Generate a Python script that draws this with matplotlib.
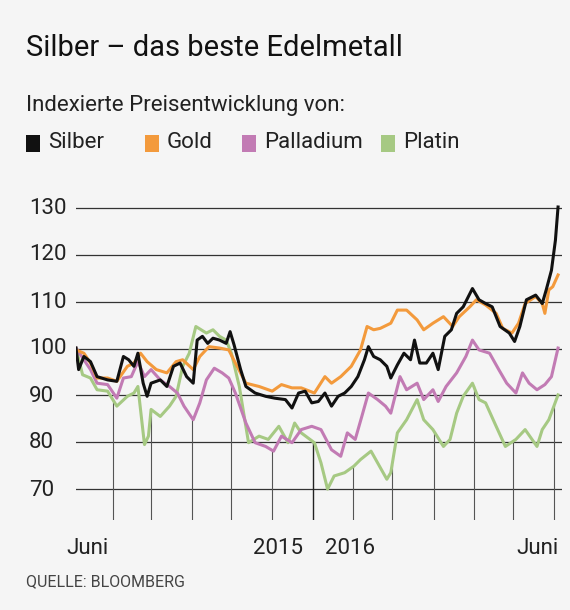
import matplotlib
matplotlib.use("Agg")
import matplotlib.pyplot as plt
import numpy as np
from matplotlib.patches import Rectangle

plt.rcParams['font.family'] = ['Roboto', 'DejaVu Sans']

silver_x = [0,2,6,11,16,24,31,36,40,44,47,51,54,57,64,69,74,79,84,89,92,96,100,104,109,114,117,120,125,129,136,144,151,159,164,169,174,179,184,189,194,199,204,209,214,219,222,226,231,236,239,244,249,254,257,261,266,271,275,280,285,289,294,301,306,311,316,322,329,333,337,342,349,354,357,361,364,366]
silver_y = [100.1,95.5,98.3,97.2,94.0,93.3,93.0,98.3,97.6,96.2,99.0,92.6,89.8,92.6,93.3,91.9,96.2,96.9,94.0,92.6,101.8,102.6,101.1,102.2,101.8,101.1,103.6,100.8,95.5,91.9,90.5,89.8,89.4,89.1,87.3,90.5,90.9,88.4,88.7,90.5,87.7,89.8,90.5,91.9,94.0,97.6,100.4,98.3,97.6,96.2,93.7,96.5,99.0,97.6,101.8,96.9,96.9,99.0,95.5,102.6,104.0,107.5,108.9,112.8,110.4,109.6,108.9,104.7,103.3,101.5,104.7,110.4,111.4,109.6,112.5,116.7,123.1,130.2]

gold_x = [0,6,11,16,24,31,39,44,49,54,61,69,76,81,89,94,101,109,116,121,129,139,149,156,164,171,181,189,194,201,209,216,221,226,231,239,244,251,259,264,271,279,286,291,299,304,311,319,324,331,336,341,349,354,356,359,362,366]
gold_y = [99.7,99.0,96.9,93.7,93.7,93.0,96.2,96.9,99.0,97.2,95.5,94.8,97.2,97.6,95.5,98.3,100.4,100.1,99.7,96.9,92.6,91.9,90.9,92.3,91.6,91.6,90.5,94.0,92.6,94.0,96.2,99.7,104.7,104.0,104.3,105.4,108.2,108.2,106.1,104.0,105.4,106.8,104.7,106.8,108.9,110.4,109.3,107.5,104.3,103.3,105.4,109.6,111.1,109.6,107.5,112.5,113.2,115.7]

pall_x = [0,6,11,16,24,31,36,42,47,52,57,64,71,77,82,89,94,99,105,111,116,121,129,136,144,150,156,164,171,179,186,194,201,206,212,217,222,229,235,239,246,251,259,264,271,275,281,289,296,301,306,314,321,327,334,339,344,350,356,361,366]
pall_y = [100.1,97.6,95.5,92.6,92.3,89.4,93.7,94.0,97.2,94.0,95.5,93.3,91.9,90.5,87.7,84.8,88.4,93.3,95.8,94.8,93.7,90.5,84.1,79.9,79.1,78.1,81.3,79.9,82.7,83.4,82.7,78.4,77.0,82.0,80.6,85.5,90.5,89.1,87.7,86.2,94.0,91.2,92.6,89.1,91.2,88.7,91.9,94.8,98.3,101.8,99.7,99.0,95.5,92.6,90.5,94.8,92.6,91.2,92.3,94.0,100.1]

plat_x = [0,5,11,16,24,31,39,44,47,52,55,57,64,71,76,81,86,91,99,104,109,114,118,124,131,139,146,154,161,166,171,181,186,191,196,204,211,216,224,229,236,239,244,251,259,264,271,279,284,289,294,301,306,311,319,326,334,341,350,354,359,366]
plat_y = [100.1,94.4,93.7,91.2,90.9,87.7,89.8,90.5,91.9,79.5,81.3,87.0,85.5,87.7,89.8,96.2,99.0,104.7,103.3,104.0,102.6,101.8,99.0,91.9,79.9,81.3,80.6,83.4,79.9,84.1,82.0,79.9,75.6,70.0,72.8,73.5,74.9,76.3,78.1,75.6,72.1,73.5,82.0,84.8,89.1,84.8,82.7,79.1,80.6,86.2,89.8,92.6,89.1,88.4,83.4,79.1,80.6,82.7,79.1,82.7,84.8,90.1]

y_ticks = [70, 80, 90, 100, 110, 120, 130]
month_ticks = [28, 57, 88, 118, 149, 180, 210, 240, 272, 302, 332, 363]
year_tick = 180

colors = {'Silber': '#111111', 'Gold': '#f39a3c', 'Palladium': '#c27bb4', 'Platin': '#a6c983'}
series = [('Platin', plat_x, plat_y), ('Palladium', pall_x, pall_y),
          ('Gold', gold_x, gold_y), ('Silber', silver_x, silver_y)]

bg = '#f5f5f5'
fig = plt.figure(figsize=(5.70, 6.10), dpi=100, facecolor=bg)
W, H = 570, 610
x0, x1, ytop, ybot = 76, 562, 190, 520
ax = fig.add_axes([x0/W, 1-ybot/H, (x1-x0)/W, (ybot-ytop)/H])
ax.set_facecolor(bg)
ax.set_xlim(0, 369)
ymin = 70 - (520-489)/4.7
ymax = 130 + (208-190)/4.7
ax.set_ylim(ymin, ymax)
for s in ax.spines.values():
    s.set_visible(False)
ax.set_xticks([]); ax.set_yticks([])

for v in y_ticks:
    ax.axhline(v, color='#333333', lw=0.9, zorder=1)

for t in month_ticks:
    low = min(np.interp(t, x, y) for _, x, y in series)
    c = '#222222' if t == year_tick else '#555555'
    ax.plot([t, t], [ymin, low], color=c, lw=1.0 if t == year_tick else 0.8, zorder=1)

for name, x, y in series:
    ax.plot(x, y, color=colors[name], lw=2.2, zorder=3, solid_joinstyle='round')

for v in y_ticks:
    fig.text(29/W, 1-(208 + (130-v)*4.7)/H, str(v), fontsize=16, va='center', ha='left', color='#222222')

fig.text(66/W, 1-548/H, 'Juni', fontsize=16, va='center', ha='left', color='#222222')
fig.text(278/W, 1-548/H, '2015', fontsize=16, va='center', ha='center', color='#222222')
fig.text(350/W, 1-548/H, '2016', fontsize=16, va='center', ha='center', color='#222222')
fig.text(559/W, 1-548/H, 'Juni', fontsize=16, va='center', ha='right', color='#222222')

fig.text(26/W, 1-48/H, 'Silber – das beste Edelmetall', fontsize=21, va='center', ha='left', color='#111111')
fig.text(26/W, 1-105/H, 'Indexierte Preisentwicklung von:', fontsize=16, va='center', ha='left', color='#222222')

lx = [26, 145, 242, 381]
for (name, _, _), xx in zip([series[3], series[2], series[1], series[0]], lx):
    fig.patches.append(Rectangle((xx/W, 1-152/H), 14/W, 17/H, transform=fig.transFigure,
                                 facecolor=colors[name], edgecolor='none'))
    fig.text((xx+22)/W, 1-142/H, name, fontsize=16, va='center', ha='left', color='#222222')

fig.text(26/W, 1-582/H, 'QUELLE: BLOOMBERG', fontsize=11.5, va='center', ha='left', color='#444444')

fig.savefig('out.png', dpi=100, facecolor=bg)
